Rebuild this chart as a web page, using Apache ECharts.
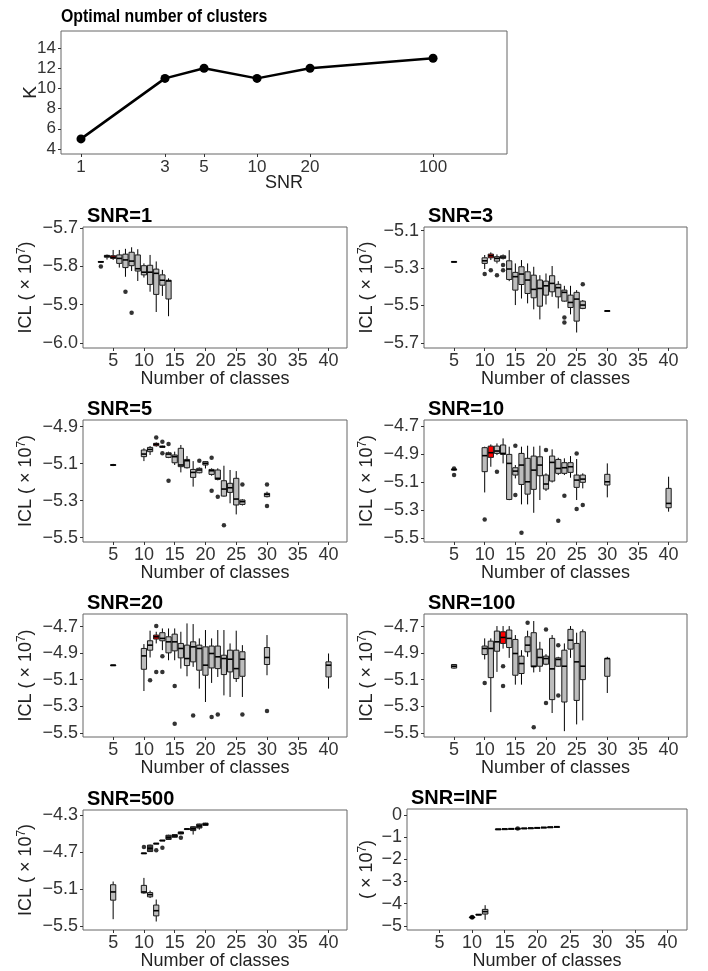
<!DOCTYPE html>
<html>
<head>
<meta charset="utf-8">
<script src="https://cdn.jsdelivr.net/npm/echarts@6/dist/echarts.min.js"></script>
<style>html,body{margin:0;padding:0;background:#fff;}#c{width:708px;height:971px;}</style>
</head>
<body>
<div id="c"></div>
<script>
// ---------------- DATA ----------------
const snrValues = [1, 3, 5, 10, 20, 100];
const optimalK = [5, 11, 12, 11, 12, 13];
const kTicks = [4, 6, 8, 10, 12, 14];
const classTicks = [5, 10, 15, 20, 25, 30, 35, 40];

// boxes: [classes, min, q1, median, q3, max] ; outliers: [classes, value]
const snr1Boxes = [
  [3, -5.791, -5.789, -5.788, -5.787, -5.786],
  [4, -5.782, -5.776, -5.773, -5.771, -5.769],
  [5, -5.783, -5.779, -5.776, -5.772, -5.757],
  [6, -5.803, -5.792, -5.779, -5.770, -5.757],
  [7, -5.827, -5.803, -5.783, -5.768, -5.754],
  [8, -5.812, -5.798, -5.786, -5.763, -5.750],
  [9, -5.838, -5.812, -5.806, -5.770, -5.755],
  [10, -5.829, -5.822, -5.815, -5.798, -5.792],
  [11, -5.866, -5.847, -5.815, -5.797, -5.770],
  [12, -5.919, -5.873, -5.818, -5.807, -5.787],
  [13, -5.877, -5.849, -5.836, -5.822, -5.809],
  [14, -5.930, -5.885, -5.838, -5.836, -5.831]
];
const snr1Outliers = [[3, -5.800], [7, -5.866], [8, -5.921]];
const snr1Ticks = [-6.0, -5.9, -5.8, -5.7];

const snr3Boxes = [
  [5, -5.268, -5.267, -5.266, -5.265, -5.264],
  [10, -5.305, -5.275, -5.261, -5.245, -5.230],
  [11, -5.257, -5.245, -5.234, -5.225, -5.216],
  [12, -5.275, -5.263, -5.248, -5.239, -5.227],
  [13, -5.254, -5.248, -5.241, -5.234, -5.227],
  [14, -5.370, -5.361, -5.305, -5.261, -5.204],
  [15, -5.498, -5.418, -5.346, -5.323, -5.275],
  [16, -5.463, -5.388, -5.332, -5.293, -5.257],
  [17, -5.489, -5.436, -5.364, -5.320, -5.275],
  [18, -5.521, -5.459, -5.414, -5.338, -5.293],
  [19, -5.575, -5.504, -5.409, -5.364, -5.338],
  [20, -5.495, -5.445, -5.395, -5.370, -5.329],
  [21, -5.454, -5.427, -5.382, -5.341, -5.289],
  [22, -5.516, -5.454, -5.405, -5.387, -5.370],
  [23, -5.480, -5.477, -5.430, -5.418, -5.395],
  [24, -5.548, -5.511, -5.484, -5.445, -5.395],
  [25, -5.645, -5.584, -5.466, -5.430, -5.418],
  [26, -5.520, -5.516, -5.498, -5.477, -5.471],
  [30, -5.531, -5.530, -5.529, -5.528, -5.527]
];
const snr3Outliers = [[10, -5.332], [11, -5.311], [12, -5.338], [13, -5.284], [13, -5.311], [23, -5.564], [23, -5.591], [26, -5.386]];
const snr3Ticks = [-5.7, -5.5, -5.3, -5.1];

const snr5Boxes = [
  [5, -5.113, -5.109, -5.107, -5.105, -5.101],
  [10, -5.086, -5.062, -5.048, -5.026, -5.017],
  [11, -5.053, -5.035, -5.023, -5.012, -5.005],
  [12, -5.008, -5.003, -4.995, -4.990, -4.985],
  [13, -5.014, -5.012, -5.008, -5.005, -5.003],
  [14, -5.070, -5.066, -5.048, -5.041, -5.035],
  [15, -5.107, -5.095, -5.062, -5.053, -5.035],
  [16, -5.147, -5.116, -5.107, -5.017, -4.999],
  [17, -5.126, -5.122, -5.084, -5.077, -5.059],
  [18, -5.224, -5.174, -5.147, -5.131, -5.086],
  [19, -5.152, -5.149, -5.134, -5.125, -5.120],
  [20, -5.126, -5.107, -5.098, -5.089, -5.086],
  [21, -5.165, -5.158, -5.138, -5.131, -5.125],
  [22, -5.190, -5.185, -5.179, -5.134, -5.125],
  [23, -5.278, -5.275, -5.237, -5.192, -5.111],
  [24, -5.314, -5.255, -5.230, -5.206, -5.134],
  [25, -5.374, -5.323, -5.291, -5.179, -5.140],
  [26, -5.326, -5.320, -5.305, -5.296, -5.292],
  [30, -5.282, -5.278, -5.266, -5.260, -5.251]
];
const snr5Outliers = [[12, -4.959], [13, -4.981], [13, -5.044], [14, -4.994], [14, -5.192], [19, -5.084], [21, -5.068], [21, -5.246], [22, -5.278], [23, -5.432], [26, -5.212], [30, -5.212], [30, -5.329]];
const snr5Ticks = [-5.5, -5.3, -5.1, -4.9];

const snr10Boxes = [
  [5, -5.012, -5.010, -5.009, -5.008, -5.006],
  [10, -5.173, -5.025, -4.911, -4.854, -4.847],
  [11, -4.990, -4.923, -4.890, -4.843, -4.831],
  [12, -4.907, -4.895, -4.878, -4.843, -4.824],
  [13, -4.966, -4.902, -4.895, -4.835, -4.788],
  [14, -5.228, -5.223, -4.966, -4.902, -4.847],
  [15, -5.073, -5.049, -5.021, -4.997, -4.978],
  [16, -5.258, -5.116, -4.978, -4.895, -4.847],
  [17, -5.258, -5.185, -5.097, -4.930, -4.840],
  [18, -5.318, -5.151, -5.014, -4.914, -4.847],
  [19, -5.227, -5.054, -4.978, -4.919, -4.840],
  [20, -5.163, -5.149, -5.113, -5.049, -5.037],
  [21, -5.102, -5.092, -4.959, -4.914, -4.866],
  [22, -5.049, -5.037, -5.002, -4.938, -4.926],
  [23, -5.049, -5.037, -4.997, -4.961, -4.930],
  [24, -5.068, -5.030, -4.990, -4.961, -4.914],
  [25, -5.227, -5.137, -5.085, -5.049, -4.935],
  [26, -5.144, -5.101, -5.078, -5.049, -5.037],
  [30, -5.208, -5.120, -5.097, -5.044, -4.966],
  [40, -5.310, -5.282, -5.251, -5.144, -5.061]
];
const snr10Outliers = [[5, -5.002], [5, -5.049], [10, -5.365], [12, -5.025], [15, -4.840], [15, -5.192], [16, -5.460], [20, -4.871], [22, -5.375], [23, -5.196], [25, -4.895], [25, -5.291], [26, -5.263]];
const snr10Ticks = [-5.5, -5.3, -5.1, -4.9, -4.7];

const snr20Boxes = [
  [5, -4.992, -4.991, -4.990, -4.989, -4.988],
  [10, -5.185, -5.021, -4.920, -4.864, -4.831],
  [11, -4.932, -4.877, -4.839, -4.806, -4.730],
  [12, -4.826, -4.793, -4.776, -4.763, -4.738],
  [13, -4.877, -4.806, -4.788, -4.745, -4.713],
  [14, -4.953, -4.897, -4.814, -4.776, -4.713],
  [15, -4.953, -4.882, -4.814, -4.756, -4.713],
  [16, -5.016, -4.935, -4.864, -4.826, -4.738],
  [17, -5.074, -4.993, -4.940, -4.839, -4.675],
  [18, -5.003, -4.965, -4.852, -4.814, -4.680],
  [19, -5.167, -5.028, -4.864, -4.839, -4.788],
  [20, -5.268, -5.066, -4.990, -4.852, -4.725],
  [21, -5.124, -5.011, -4.902, -4.846, -4.788],
  [22, -5.079, -5.016, -4.927, -4.846, -4.725],
  [23, -5.218, -5.061, -4.940, -4.915, -4.725],
  [24, -5.230, -5.041, -4.945, -4.877, -4.826],
  [25, -5.117, -5.091, -5.016, -4.877, -4.730],
  [26, -5.230, -5.074, -4.945, -4.889, -4.839],
  [30, -5.066, -4.985, -4.932, -4.857, -4.763],
  [40, -5.167, -5.079, -4.990, -4.965, -4.902]
];
const snr20Outliers = [[11, -5.104], [12, -4.695], [12, -5.041], [13, -5.041], [13, -4.922], [15, -5.147], [15, -5.432], [18, -5.369], [21, -5.382], [22, -5.362], [26, -5.362], [30, -5.336]];
const snr20Ticks = [-5.5, -5.3, -5.1, -4.9, -4.7];

const snr100Boxes = [
  [5, -5.016, -5.012, -4.998, -4.985, -4.983],
  [10, -4.947, -4.910, -4.864, -4.846, -4.788],
  [11, -5.344, -5.084, -4.864, -4.809, -4.788],
  [12, -5.041, -4.885, -4.814, -4.733, -4.695],
  [13, -4.865, -4.826, -4.781, -4.738, -4.695],
  [14, -4.935, -4.857, -4.788, -4.725, -4.695],
  [15, -5.137, -5.066, -4.902, -4.796, -4.763],
  [16, -5.137, -5.053, -4.978, -4.922, -4.877],
  [17, -4.927, -4.889, -4.839, -4.776, -4.730],
  [18, -5.045, -5.003, -4.998, -4.745, -4.657],
  [19, -5.041, -4.998, -4.932, -4.869, -4.814],
  [20, -4.990, -4.983, -4.940, -4.922, -4.907],
  [21, -5.351, -5.250, -5.018, -4.788, -4.763],
  [22, -5.003, -4.998, -4.947, -4.935, -4.927],
  [23, -5.488, -5.268, -4.998, -4.877, -4.826],
  [24, -4.935, -4.869, -4.801, -4.720, -4.695],
  [25, -5.437, -5.256, -4.965, -4.826, -4.745],
  [26, -5.407, -5.099, -4.998, -4.738, -4.720],
  [30, -5.200, -5.074, -4.940, -4.940, -4.927]
];
const snr100Outliers = [[10, -5.124], [13, -4.998], [13, -5.147], [17, -4.670], [18, -5.458], [20, -4.720], [20, -5.276], [22, -4.839], [22, -5.218]];
const snr100Ticks = [-5.5, -5.3, -5.1, -4.9, -4.7];

const snr500LowerBoxes = [
  [5, -5.429, -5.223, -5.134, -5.056, -5.021],
  [10, -5.152, -5.145, -5.134, -5.063, -4.982],
  [11, -5.200, -5.187, -5.163, -5.141, -5.120],
  [12, -5.454, -5.393, -5.337, -5.276, -5.216]
];
const snr500UpperBoxes = [
  [10, -4.718, -4.717, -4.715, -4.713, -4.712],
  [11, -4.700, -4.697, -4.662, -4.627, -4.622],
  [12, -4.611, -4.610, -4.609, -4.608, -4.607],
  [13, -4.582, -4.580, -4.577, -4.574, -4.572],
  [14, -4.570, -4.566, -4.545, -4.520, -4.515],
  [15, -4.545, -4.542, -4.528, -4.513, -4.510],
  [16, -4.509, -4.506, -4.495, -4.484, -4.481],
  [17, -4.455, -4.454, -4.452, -4.450, -4.449],
  [18, -4.513, -4.470, -4.450, -4.428, -4.425],
  [19, -4.460, -4.442, -4.420, -4.399, -4.396],
  [20, -4.417, -4.414, -4.401, -4.389, -4.386]
];
const snr500Outliers = [[10, -4.648], [12, -4.683], [13, -4.655], [16, -4.548]];
const snr500Ticks = [-5.5, -5.1, -4.7, -4.3];

const snrInfBoxes = [
  [10, -4.625, -4.620, -4.614, -4.608, -4.603],
  [11, -4.525, -4.515, -4.500, -4.480, -4.470],
  [12, -4.730, -4.470, -4.360, -4.260, -4.070],
  [14, -0.640, -0.639, -0.638, -0.637, -0.636],
  [15, -0.630, -0.629, -0.628, -0.627, -0.626],
  [16, -0.620, -0.619, -0.618, -0.617, -0.616],
  [17, -0.611, -0.610, -0.609, -0.608, -0.607],
  [18, -0.600, -0.599, -0.598, -0.597, -0.596],
  [19, -0.590, -0.589, -0.588, -0.587, -0.586],
  [20, -0.576, -0.575, -0.574, -0.573, -0.572],
  [21, -0.561, -0.560, -0.559, -0.558, -0.557],
  [22, -0.546, -0.545, -0.544, -0.543, -0.542],
  [23, -0.531, -0.530, -0.529, -0.528, -0.527]
];
const snrInfOutliers = [[10, -4.600], [10, -4.630], [17, -0.615]];
const snrInfTicks = [-5, -4, -3, -2, -1, 0];

// ---------------- STYLE / LAYOUT ----------------
const FONT = '"Liberation Sans", Arial, Helvetica, sans-serif';
const TXT = '#333';
const FRAME = '#666';
const BOX_FILL = '#bdbdbd';
const BOX_W = 0.85;

const panels = [
  {title: 'SNR=1', boxes: [snr1Boxes], fills: [BOX_FILL], outs: snr1Outliers, best: 5, rect: [83, 227, 347, 348], x: [0.1, 43], y: [-6.013, -5.697], ticks: snr1Ticks, ylab: 'ICL', dec: 1},
  {title: 'SNR=3', boxes: [snr3Boxes], fills: [BOX_FILL], outs: snr3Outliers, best: 11, rect: [424, 227, 687, 348], x: [0.1, 43], y: [-5.728, -5.080], ticks: snr3Ticks, ylab: 'ICL', dec: 1},
  {title: 'SNR=5', boxes: [snr5Boxes], fills: [BOX_FILL], outs: snr5Outliers, best: 12, rect: [83, 420, 347, 542], x: [0.1, 43], y: [-5.523, -4.864], ticks: snr5Ticks, ylab: 'ICL', dec: 1},
  {title: 'SNR=10', boxes: [snr10Boxes], fills: [BOX_FILL], outs: snr10Outliers, best: 11, rect: [424, 420, 687, 542], x: [0.1, 43], y: [-5.526, -4.657], ticks: snr10Ticks, ylab: 'ICL', dec: 1},
  {title: 'SNR=20', boxes: [snr20Boxes], fills: [BOX_FILL], outs: snr20Outliers, best: 12, rect: [83, 614, 347, 737], x: [0.1, 43], y: [-5.532, -4.604], ticks: snr20Ticks, ylab: 'ICL', dec: 1},
  {title: 'SNR=100', boxes: [snr100Boxes], fills: [BOX_FILL], outs: snr100Outliers, best: 13, rect: [424, 614, 687, 737], x: [0.1, 43], y: [-5.532, -4.604], ticks: snr100Ticks, ylab: 'ICL', dec: 1},
  {title: 'SNR=500', boxes: [snr500LowerBoxes, snr500UpperBoxes], fills: [BOX_FILL, '#3a3a3a'], outs: snr500Outliers, best: null, rect: [83, 810, 347, 932], x: [0.1, 43], y: [-5.546, -4.247], ticks: snr500Ticks, ylab: 'ICL', dec: 1},
  {title: 'SNR=INF', boxes: [snrInfBoxes], fills: [BOX_FILL], outs: snrInfOutliers, best: null, rect: [407, 809, 687, 932], x: [0, 43], y: [-5.19, 0.27], ticks: snrInfTicks, ylab: '', dec: 0}
];

function fmt(dec) {
  return function (v) {
    const a = Math.abs(v).toFixed(dec);
    return (v < -1e-9 ? '\u2212' : '') + a;
  };
}

function boxRenderer(best, fill) {
  return function (params, api) {
    const x = api.value(0);
    const pMin = api.coord([x, api.value(1)]);
    const pQ1 = api.coord([x, api.value(2)]);
    const pMed = api.coord([x, api.value(3)]);
    const pQ3 = api.coord([x, api.value(4)]);
    const pMax = api.coord([x, api.value(5)]);
    const w = api.size([BOX_W, 0])[0];
    const cx = pMed[0];
    const l = cx - w / 2;
    const h = Math.max(pQ1[1] - pQ3[1], 0.8);
    return {
      type: 'group',
      children: [
        {type: 'line', shape: {x1: cx, y1: pMin[1], x2: cx, y2: pQ1[1]}, style: {stroke: '#000', lineWidth: 1}},
        {type: 'line', shape: {x1: cx, y1: pQ3[1], x2: cx, y2: pMax[1]}, style: {stroke: '#000', lineWidth: 1}},
        {type: 'rect', shape: {x: l, y: pQ3[1], width: w, height: h}, style: {fill: x === best ? '#ff0000' : fill, stroke: '#1a1a1a', lineWidth: 1}},
        {type: 'line', shape: {x1: l, y1: pMed[1], x2: l + w, y2: pMed[1]}, style: {stroke: '#000', lineWidth: 1.6}}
      ]
    };
  };
}

const option = {
  animation: false,
  backgroundColor: '#fff',
  title: [],
  grid: [],
  xAxis: [],
  yAxis: [],
  series: [],
  graphic: [
    {type: 'text', x: 61, y: 7, scaleX: 0.835, scaleY: 1, originX: 0, originY: 0,
     style: {text: 'Optimal number of clusters', font: 'bold 19px "Liberation Sans", Arial, sans-serif', fill: '#000'}}
  ]
};

// ---- top panel ----
option.grid.push({left: 61, top: 31, width: 446, height: 123, show: true, borderColor: FRAME, borderWidth: 1, backgroundColor: 'transparent'});
option.xAxis.push({
  type: 'log', gridIndex: 0, min: 0.77, max: 263, logBase: 10,
  axisLine: {show: false, onZero: false},
  axisTick: {show: true, length: 3, customValues: snrValues, lineStyle: {color: TXT}},
  axisLabel: {customValues: snrValues, fontFamily: FONT, fontSize: 17, color: TXT, margin: 5},
  splitLine: {show: false}, minorSplitLine: {show: false},
  name: 'SNR', nameLocation: 'middle', nameGap: 20, nameMoveOverlap: false,
  nameTextStyle: {fontFamily: FONT, fontSize: 18, color: '#222'}
});
option.yAxis.push({
  type: 'value', gridIndex: 0, min: 3.5, max: 15.7,
  axisLine: {show: false, onZero: false},
  axisTick: {show: true, length: 3, customValues: kTicks, lineStyle: {color: TXT}},
  axisLabel: {customValues: kTicks, fontFamily: FONT, fontSize: 17, color: TXT, margin: 5},
  splitLine: {show: false},
  name: 'K', nameLocation: 'middle', nameGap: 21, nameRotate: 90, nameMoveOverlap: false,
  nameTextStyle: {fontFamily: FONT, fontSize: 19, color: '#222'}
});
option.series.push({
  type: 'line', xAxisIndex: 0, yAxisIndex: 0,
  data: snrValues.map((s, i) => [s, optimalK[i]]),
  lineStyle: {color: '#000', width: 2.5},
  itemStyle: {color: '#000'},
  symbol: 'circle', symbolSize: 9, showSymbol: true
});

// ---- box panels ----
panels.forEach((p, i) => {
  const gi = i + 1;
  const [l, t, r, b] = p.rect;
  option.title.push({text: p.title, left: l - 1, top: t - 26, textStyle: {fontFamily: FONT, fontSize: 20, fontWeight: 'bold', color: '#000'}});
  option.grid.push({left: l, top: t, width: r - l, height: b - t, show: true, borderColor: FRAME, borderWidth: 1, backgroundColor: 'transparent'});
  option.xAxis.push({
    type: 'value', gridIndex: gi, min: p.x[0], max: p.x[1],
    axisLine: {show: false, onZero: false},
    axisTick: {show: true, length: 3, customValues: classTicks, lineStyle: {color: TXT}},
    axisLabel: {customValues: classTicks, fontFamily: FONT, fontSize: 18, color: TXT, margin: 4},
    splitLine: {show: false},
    name: 'Number of classes', nameLocation: 'middle', nameGap: 22, nameMoveOverlap: false,
    nameTextStyle: {fontFamily: FONT, fontSize: 18, color: '#222'}
  });
  option.yAxis.push({
    type: 'value', gridIndex: gi, min: p.y[0], max: p.y[1],
    axisLine: {show: false, onZero: false},
    axisTick: {show: true, length: 3, customValues: p.ticks, lineStyle: {color: TXT}},
    axisLabel: {customValues: p.ticks, fontFamily: FONT, fontSize: 18, color: TXT, margin: 5, formatter: fmt(p.dec)},
    splitLine: {show: false},
    name: (p.ylab ? p.ylab + ' ' : '') + '( \u00d7 10{sup|7})', nameLocation: 'middle', nameRotate: 90,
    nameGap: p.ylab ? 46 : 29, nameMoveOverlap: false,
    nameTextStyle: {fontFamily: FONT, fontSize: 18, color: '#222', rich: {sup: {fontFamily: FONT, fontSize: 12, color: '#222', verticalAlign: 'bottom', padding: [0, 0, 9, 0]}}}
  });
  p.boxes.forEach((arr, k) => {
    option.series.push({
      type: 'custom', xAxisIndex: gi, yAxisIndex: gi,
      renderItem: boxRenderer(p.best, p.fills[k]),
      data: arr,
      encode: {x: 0, y: [1, 2, 3, 4, 5]},
      silent: true, z: 2
    });
  });
  option.series.push({
    type: 'scatter', xAxisIndex: gi, yAxisIndex: gi,
    data: p.outs, symbol: 'circle', symbolSize: 4.5,
    itemStyle: {color: '#000'}, silent: true, z: 3
  });
});

const chart = echarts.init(document.getElementById('c'), null, {renderer: 'canvas', width: 708, height: 971});
chart.setOption(option);
</script>
</body>
</html>
